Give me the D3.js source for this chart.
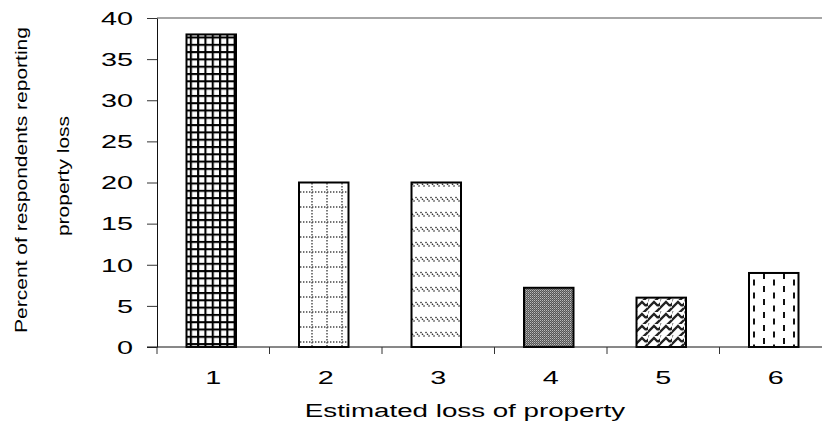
<!DOCTYPE html>
<html>
<head>
<meta charset="utf-8">
<script src="https://cdn.jsdelivr.net/npm/d3@7"></script>
<style>
  body { margin: 0; background: #fff; }
  svg { display: block; font-family: "Liberation Sans", Arial, sans-serif; }
</style>
</head>
<body>
<svg id="chart" width="822" height="425"></svg>
<script>
// data
const categories = ["1", "2", "3", "4", "5", "6"];
const values = [38, 20, 20, 7.2, 6, 9];
const yTicks = [0, 5, 10, 15, 20, 25, 30, 35, 40];
const xTitle = "Estimated loss of property";
const yTitle = ["Percent of respondents reporting", "property loss"];

const width = 822, height = 425;
const plotLeft = 157, plotTop = 18, plotBottom = 347, plotRight = 832;

const svg = d3.select("#chart");
const defs = svg.append("defs");

// fill patterns, one per bar
function pattern(id, w, h) {
  return defs.append("pattern").attr("id", id).attr("patternUnits", "userSpaceOnUse")
    .attr("width", w).attr("height", h);
}
// 1: dense black grid
let p = pattern("p1", 7.3, 7.3);
p.append("rect").attr("width", 7.3).attr("height", 7.3).attr("fill", "#fff");
p.append("path").attr("d", "M1,0V7.3M0,1H7.3").attr("stroke", "#000").attr("stroke-width", 2.2);
// 2: dotted grid
p = pattern("p2", 15, 15);
p.append("rect").attr("width", 15).attr("height", 15).attr("fill", "#fff");
p.append("path").attr("d", "M12,0V15M0,12H15").attr("stroke", "#444")
  .attr("stroke-width", 1.4).attr("stroke-dasharray", "1.4,1.6");
// 3: rows of backslash dashes
p = pattern("p3", 5, 15);
p.append("rect").attr("width", 5).attr("height", 15).attr("fill", "#fff");
p.append("path").attr("d", "M0.5,2L4.5,6.5").attr("stroke", "#333").attr("stroke-width", 1.4)
  .attr("stroke-dasharray", "1.5,0.8");
// 4: fine gray stipple
p = pattern("p4", 2, 2);
p.append("rect").attr("width", 2).attr("height", 2).attr("fill", "#555");
p.append("rect").attr("width", 1).attr("height", 1).attr("fill", "#bbb");
p.append("rect").attr("x", 1).attr("y", 1).attr("width", 1).attr("height", 1).attr("fill", "#888");
// 5: herringbone weave
p = pattern("p5", 12, 12);
p.append("rect").attr("width", 12).attr("height", 12).attr("fill", "#fff");
p.append("path").attr("d", "M0,8L6,2L10,6M6,14L12,8M-3,3L0,0M10,6L13,3M0,12L3,15M-2,10L0,8")
  .attr("stroke", "#222").attr("stroke-width", 2.4).attr("fill", "none");
// 6: staggered vertical dashes
p = pattern("p6", 20, 13);
p.append("rect").attr("width", 20).attr("height", 13).attr("fill", "#fff");
p.append("path").attr("d", "M4,0V6M14,6.5V12.5").attr("stroke", "#111").attr("stroke-width", 2);
const fills = ["p1", "p2", "p3", "p4", "p5", "p6"];

const x = d3.scaleBand().domain(categories).range([plotLeft, plotRight])
  .paddingInner(0.56).paddingOuter(0.28);
const y = d3.scaleLinear().domain([0, 40]).range([plotBottom, plotTop]);
const barShift = -2; // bars sit slightly left of their category centre

// top border of plot area
svg.append("line").attr("x1", plotLeft).attr("x2", width).attr("y1", plotTop).attr("y2", plotTop)
  .attr("stroke", "#888").attr("stroke-width", 1.5);

// bars
svg.append("g").selectAll("rect").data(values).join("rect")
  .attr("x", (d, i) => x(categories[i]) + barShift)
  .attr("y", d => y(d))
  .attr("width", x.bandwidth())
  .attr("height", d => y(0) - y(d))
  .attr("fill", (d, i) => `url(#${fills[i]})`)
  .attr("stroke", "#000").attr("stroke-width", 2);

// y axis
const yAxis = svg.append("g").attr("transform", `translate(${plotLeft},0)`)
  .call(d3.axisLeft(y).tickValues(yTicks).tickSize(10).tickSizeOuter(0));
yAxis.select(".domain").attr("stroke", "#111");
yAxis.selectAll(".tick line").attr("stroke", "#333");
yAxis.selectAll(".tick text")
  .attr("x", null).attr("dy", null)
  .attr("dominant-baseline", "central")
  .attr("transform", "translate(-24,0) scale(1.6,1)")
  .attr("font-size", 18).attr("font-family", "Liberation Sans, Arial, sans-serif").attr("fill", "#000");

// x axis: labels at band centres, ticks at band boundaries
const xAxis = svg.append("g").attr("transform", `translate(0,${plotBottom})`)
  .call(d3.axisBottom(x).tickSize(0).tickPadding(0));
xAxis.select(".domain").remove();
xAxis.selectAll(".tick text")
  .attr("y", null).attr("dy", null)
  .attr("transform", "translate(0,37) scale(1.6,1)")
  .attr("font-size", 18).attr("font-family", "Liberation Sans, Arial, sans-serif").attr("fill", "#000");
svg.append("line").attr("x1", plotLeft - 10).attr("x2", width).attr("y1", plotBottom).attr("y2", plotBottom)
  .attr("stroke", "#111");
const half = (x.step() - x.bandwidth()) / 2;
svg.append("g").selectAll("line").data(categories).join("line")
  .attr("x1", d => x(d) - half).attr("x2", d => x(d) - half)
  .attr("y1", plotBottom).attr("y2", plotBottom + 7)
  .attr("stroke", "#333");

// axis titles
svg.append("text")
  .attr("transform", `translate(465,417) scale(1.54,1)`)
  .attr("text-anchor", "middle").attr("font-size", 18).attr("fill", "#000")
  .text(xTitle);

svg.selectAll(".ytitle").data(yTitle).join("text")
  .attr("class", "ytitle")
  .attr("transform", (d, i) => `translate(${i ? 63 : 21},${i ? 176 : 180}) rotate(-90) scale(1,0.78)`)
  .attr("text-anchor", "middle").attr("dominant-baseline", "central")
  .attr("font-size", 21).attr("fill", "#000")
  .text(d => d);
</script>
</body>
</html>
